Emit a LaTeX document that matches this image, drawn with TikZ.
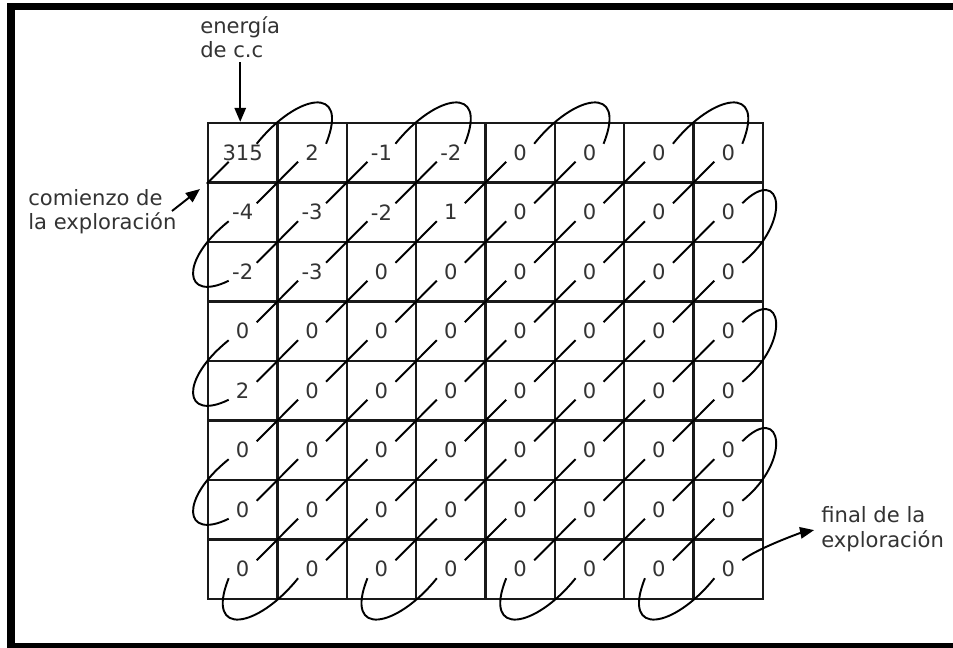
\documentclass[tikz,border=0pt]{standalone}
\usepackage{fontspec}
\setmainfont{DejaVu Sans}
\usetikzlibrary{arrows.meta}

\begin{document}
\begin{tikzpicture}[x=0.02cm, y=-0.02cm,
    cell/.style={draw=black!90, line width=1.3pt, minimum width=1.3875cm,
      minimum height=1.19cm, inner sep=0pt, text=black!80,
      font=\fontsize{12}{14.5}\selectfont},
    note/.style={align=left, inner sep=0pt, text=black!80,
      font=\fontsize{12}{14.2}\selectfont},
    scan/.style={line width=1.1pt},
    arrow/.style={line width=1.1pt, -{Triangle[length=8pt,width=6.5pt]}}]

  \useasboundingbox (0,0) rectangle (953,648);
  \fill[white] (0,0) rectangle (953,648);

  % Frame
  \fill (7,3) rectangle (953,10);
  \fill (7,3) rectangle (15,648);
  \fill (7,643) rectangle (953,648);

  % Coefficient cells
  \foreach \vals [count=\r from 0] in {{315,2,-1,-2,0,0,0,0},{-4,-3,-2,1,0,0,0,0},
      {-2,-3,0,0,0,0,0,0},{0,0,0,0,0,0,0,0},{2,0,0,0,0,0,0,0},
      {0,0,0,0,0,0,0,0},{0,0,0,0,0,0,0,0},{0,0,0,0,0,0,0,0}}
    \foreach \v [count=\c from 0] in \vals {
      \node[cell] (n-\r-\c) at ({242.69+69.375*\c},{152.75+59.5*\r}) {\v};
      \path (n-\r-\c.center) ++(14,-9) coordinate (ne-\r-\c)
        ++(-28,18) coordinate (sw-\r-\c);
    }

  % Zigzag: diagonal pieces
  \foreach \r in {1,...,7}
    \foreach \c in {0,...,6} {
      \pgfmathtruncatemacro\rr{\r-1}
      \pgfmathtruncatemacro\cc{\c+1}
      \draw[scan] (ne-\r-\c) -- (sw-\rr-\cc);
    }

  % Zigzag: turns on top and bottom
  \foreach \c [evaluate=\c as \cc using int(\c+1)] in {0,2,4,6} {
    \draw[scan] (ne-0-\c) .. controls +(40,-50) and +(24,-60) .. (ne-0-\cc);
    \draw[scan] (sw-7-\c) .. controls +(-24,60) and +(-40,50) .. (sw-7-\cc);
  }

  % Zigzag: turns on left and right
  \foreach \r [evaluate=\r as \rr using int(\r+1)] in {1,3,5} {
    \draw[scan] (sw-\r-0) .. controls +(-50,40) and +(-45,22) .. (sw-\rr-0);
    \draw[scan] (ne-\r-7) .. controls +(40,-40) and +(50,-40) .. (ne-\rr-7);
  }
  \draw[scan] (n-0-0.south west) -- (sw-0-0);

  % Labels
  \node[note, anchor=base west] (energia) at (200,58) {energía\\de c.c};
  \node[note, anchor=base west] (comienzo) at (28,230) {comienzo de\\la exploración};
  \node[note, anchor=base west] (final) at (821,547) {final de la\\exploración};
  \coordinate (comienzo-tail) at (172,211);

  % Arrows
  \draw[arrow, shorten <=2pt] (energia.south) -- (energia.south |- n-0-0.north);
  \draw[arrow, shorten >=5pt] (comienzo-tail) -- (n-0-0.south west);
  \draw[arrow, shorten >=4pt] (ne-7-7) .. controls +(15,-12) and +(-20,4) .. (final.west);

\end{tikzpicture}
\end{document}
